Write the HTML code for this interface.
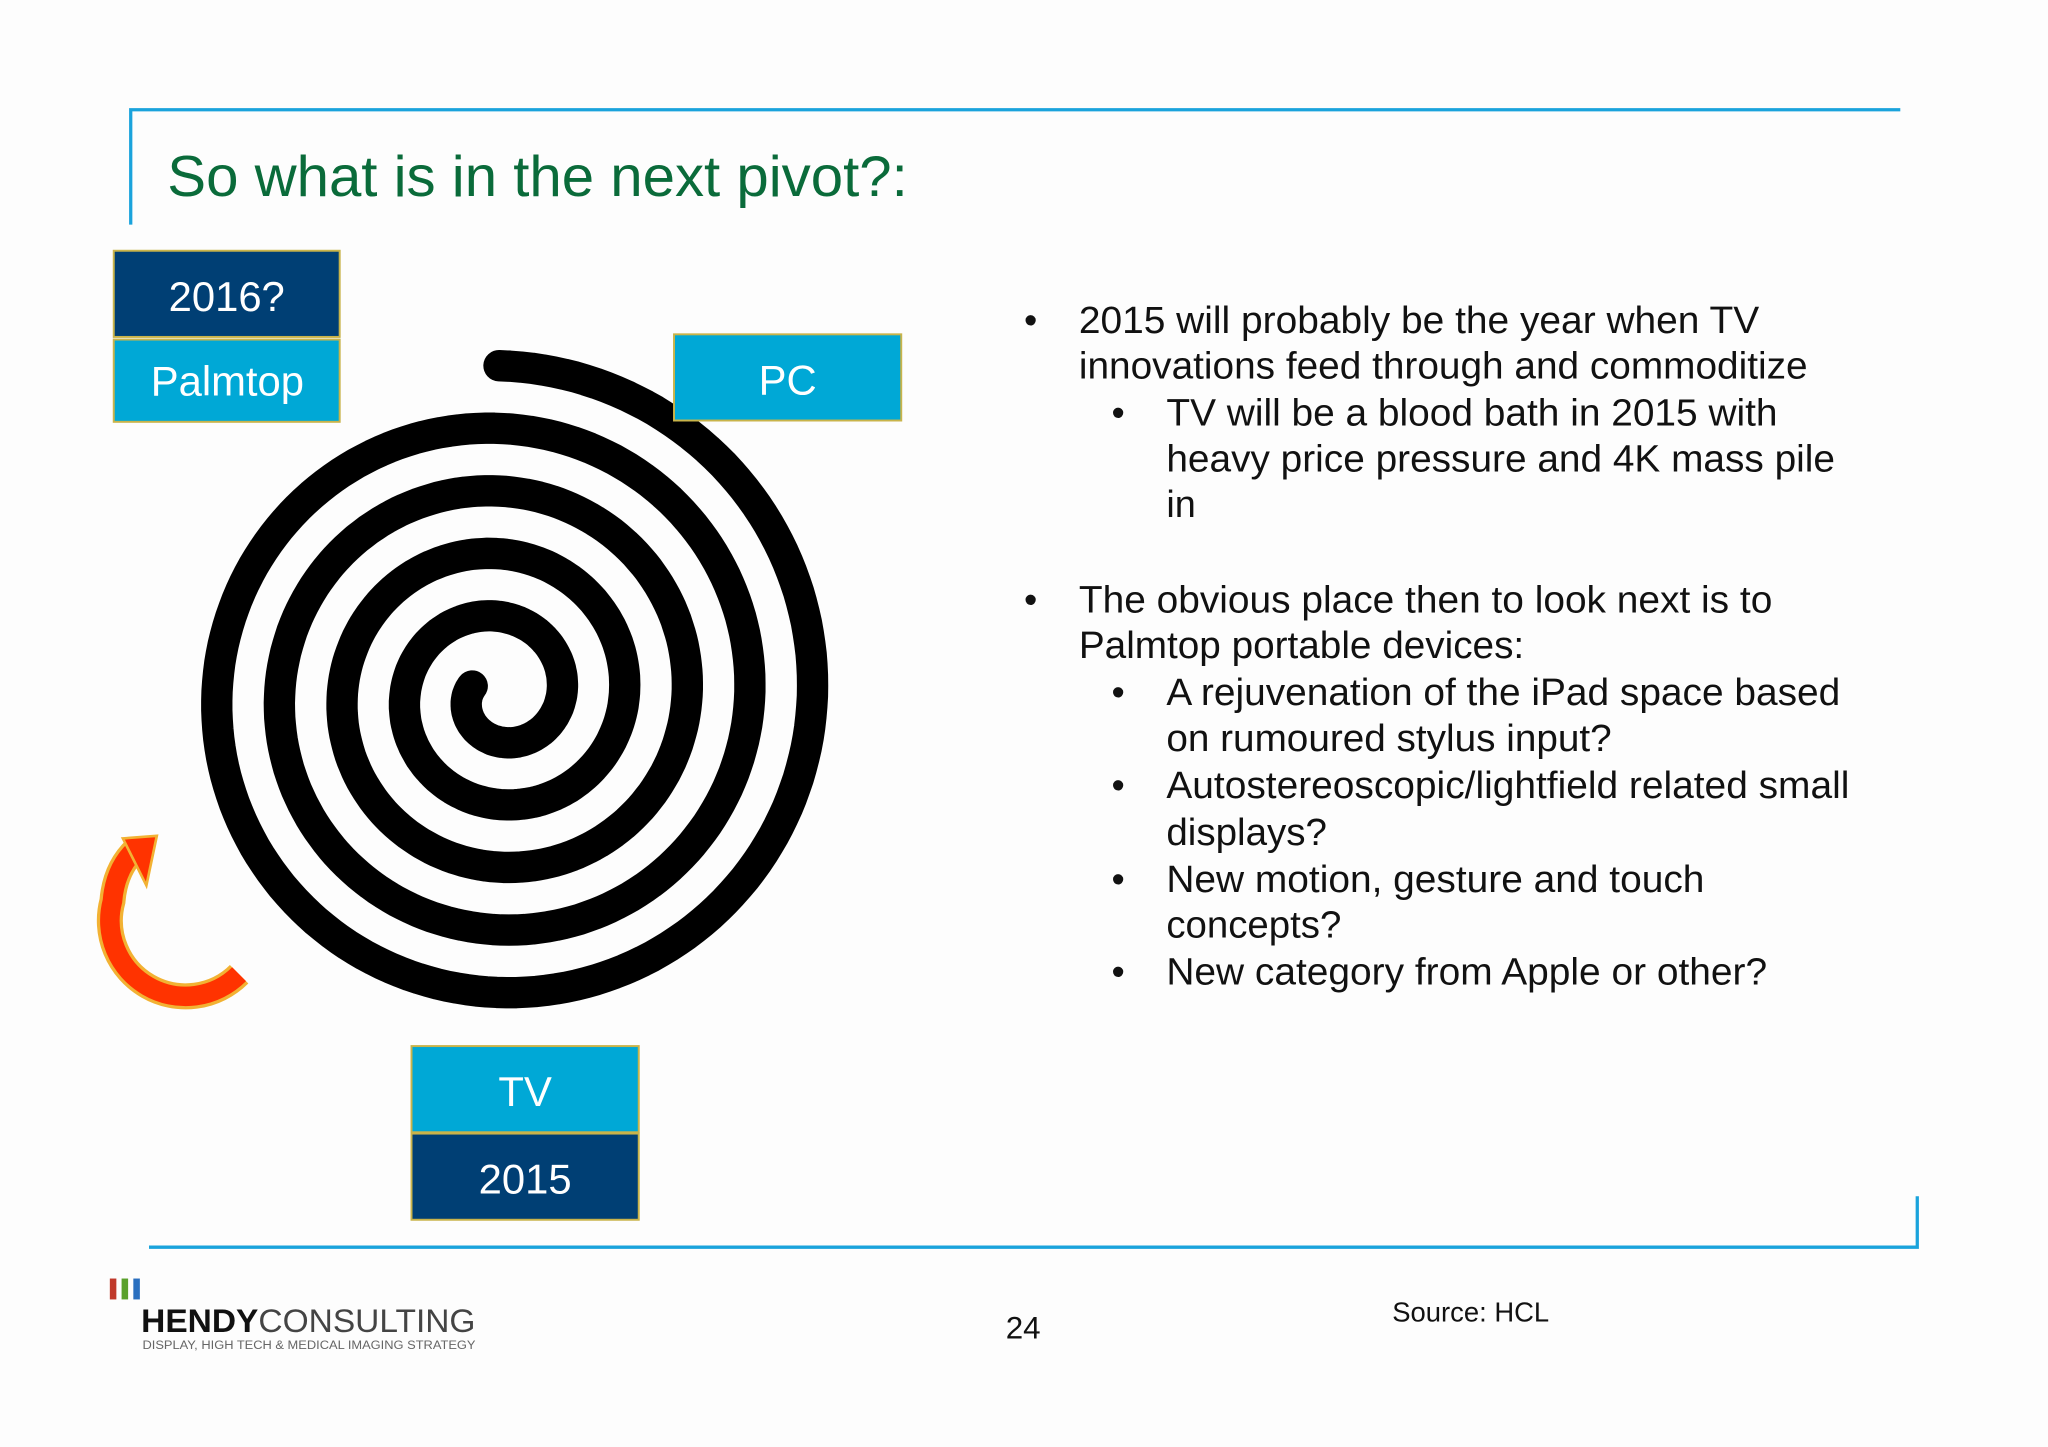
<!DOCTYPE html>
<html><head><meta charset="utf-8">
<style>
html,body{margin:0;padding:0;background:#fdfdfd;}
svg{display:block;}
text{font-family:"Liberation Sans",Arial,sans-serif;}
</style></head>
<body>
<svg width="2048" height="1447" viewBox="0 0 1568 1108" xmlns="http://www.w3.org/2000/svg">
<rect x="0" y="0" width="1568" height="1108" fill="#fdfdfd"/>
<g stroke="#1aa3dc" stroke-width="2.5" fill="none">
<polyline points="100,172 100,84 1455,84"/>
<polyline points="114,955 1468,955 1468,916"/>
</g>
<text x="128" y="150" font-size="44" fill="#0a6b3a" textLength="567" lengthAdjust="spacingAndGlyphs">So what is in the next pivot?:</text>

<g id="spiral"></g>

<g>
<path d="M183,746 A58,58 0 0 1 86,690 Q88,665 104,650" fill="none" stroke="#f2b233" stroke-width="20" stroke-linecap="butt"/>
<path d="M183,746 A58,58 0 0 1 86,690 Q88,665 104,650" fill="none" stroke="#ff3300" stroke-width="15" stroke-linecap="butt"/>
<polygon points="94,642 120,640 112,678" fill="#ff3300" stroke="#f2b233" stroke-width="2"/>
</g>

<g>
<rect x="87" y="192" width="173" height="66" fill="#003f74" stroke="#c9b44a" stroke-width="1.5"/>
<text x="173.5" y="238" font-size="32" fill="#fff" text-anchor="middle">2016?</text>
</g>
<g>
<rect x="87" y="260" width="173" height="63" fill="#00a8d6" stroke="#c9b44a" stroke-width="1.5"/>
<text x="174" y="303" font-size="32" fill="#fff" text-anchor="middle">Palmtop</text>
</g>
<g>
<rect x="516" y="256" width="174" height="66" fill="#00a8d6" stroke="#c9b44a" stroke-width="1.5"/>
<text x="603" y="302" font-size="32" fill="#fff" text-anchor="middle">PC</text>
</g>
<g>
<rect x="315" y="801" width="174" height="66" fill="#00a8d6" stroke="#c9b44a" stroke-width="1.5"/>
<text x="402" y="847" font-size="32" fill="#fff" text-anchor="middle">TV</text>
</g>
<g>
<rect x="315" y="868" width="174" height="66" fill="#003f74" stroke="#c9b44a" stroke-width="1.5"/>
<text x="402" y="914" font-size="32" fill="#fff" text-anchor="middle">2015</text>
</g>

<g font-size="29" fill="#111">
<text x="784" y="255">•</text>
<text x="826" y="255" textLength="521" lengthAdjust="spacingAndGlyphs">2015 will probably be the year when TV</text>
<text x="826" y="290" textLength="558" lengthAdjust="spacingAndGlyphs">innovations feed through and commoditize</text>
<text x="851" y="326">•</text>
<text x="893" y="326" textLength="468" lengthAdjust="spacingAndGlyphs">TV will be a blood bath in 2015 with</text>
<text x="893" y="361" textLength="512" lengthAdjust="spacingAndGlyphs">heavy price pressure and 4K mass pile</text>
<text x="893" y="396">in</text>
<text x="784" y="469">•</text>
<text x="826" y="469" textLength="531" lengthAdjust="spacingAndGlyphs">The obvious place then to look next is to</text>
<text x="826" y="504" textLength="341" lengthAdjust="spacingAndGlyphs">Palmtop portable devices:</text>
<text x="851" y="540">•</text>
<text x="893" y="540" textLength="516" lengthAdjust="spacingAndGlyphs">A rejuvenation of the iPad space based</text>
<text x="893" y="575" textLength="341" lengthAdjust="spacingAndGlyphs">on rumoured stylus input?</text>
<text x="851" y="611">•</text>
<text x="893" y="611" textLength="523" lengthAdjust="spacingAndGlyphs">Autostereoscopic/lightfield related small</text>
<text x="893" y="647" textLength="123" lengthAdjust="spacingAndGlyphs">displays?</text>
<text x="851" y="683">•</text>
<text x="893" y="683" textLength="412" lengthAdjust="spacingAndGlyphs">New motion, gesture and touch</text>
<text x="893" y="718" textLength="134" lengthAdjust="spacingAndGlyphs">concepts?</text>
<text x="851" y="754">•</text>
<text x="893" y="754" textLength="460" lengthAdjust="spacingAndGlyphs">New category from Apple or other?</text>
</g>

<g>
<rect x="84" y="979" width="5" height="16" fill="#c0392b"/>
<rect x="93" y="979" width="5" height="16" fill="#5aa02c"/>
<rect x="102" y="979" width="5" height="16" fill="#2a6fbf"/>
<text x="108" y="1020" font-size="25" fill="#111" textLength="256" lengthAdjust="spacingAndGlyphs"><tspan font-weight="bold">HENDY</tspan><tspan fill="#444">CONSULTING</tspan></text>
<text x="109" y="1033" font-size="9" fill="#666" textLength="255" lengthAdjust="spacingAndGlyphs">DISPLAY, HIGH TECH &amp; MEDICAL IMAGING STRATEGY</text>
</g>
<text x="770" y="1025" font-size="24" fill="#111">24</text>
<text x="1066" y="1012" font-size="21" fill="#111">Source: HCL</text>
</svg>
<script>
const turns = 4.8;
const rStart = 252;
const pitch = 48;
const cx = 382, cy = 532;
const g = document.getElementById('spiral');
let pts = [];
const steps = 900;
for (let i = 0; i <= steps; i++) {
  const t = turns * i / steps;
  const r = rStart - pitch * t;
  const a = t * 2 * Math.PI;
  pts.push((cx + r * Math.sin(a)).toFixed(1) + ',' + (cy - r * Math.cos(a)).toFixed(1));
}
const pl = document.createElementNS('http://www.w3.org/2000/svg', 'polyline');


pl.setAttribute('points', pts.join(' '));
pl.setAttribute('fill', 'none');
pl.setAttribute('stroke', '#000');
pl.setAttribute('stroke-width', '24');
pl.setAttribute('stroke-linecap', 'round');
pl.setAttribute('stroke-linejoin', 'round');
g.appendChild(pl);
</script>
</body></html>
